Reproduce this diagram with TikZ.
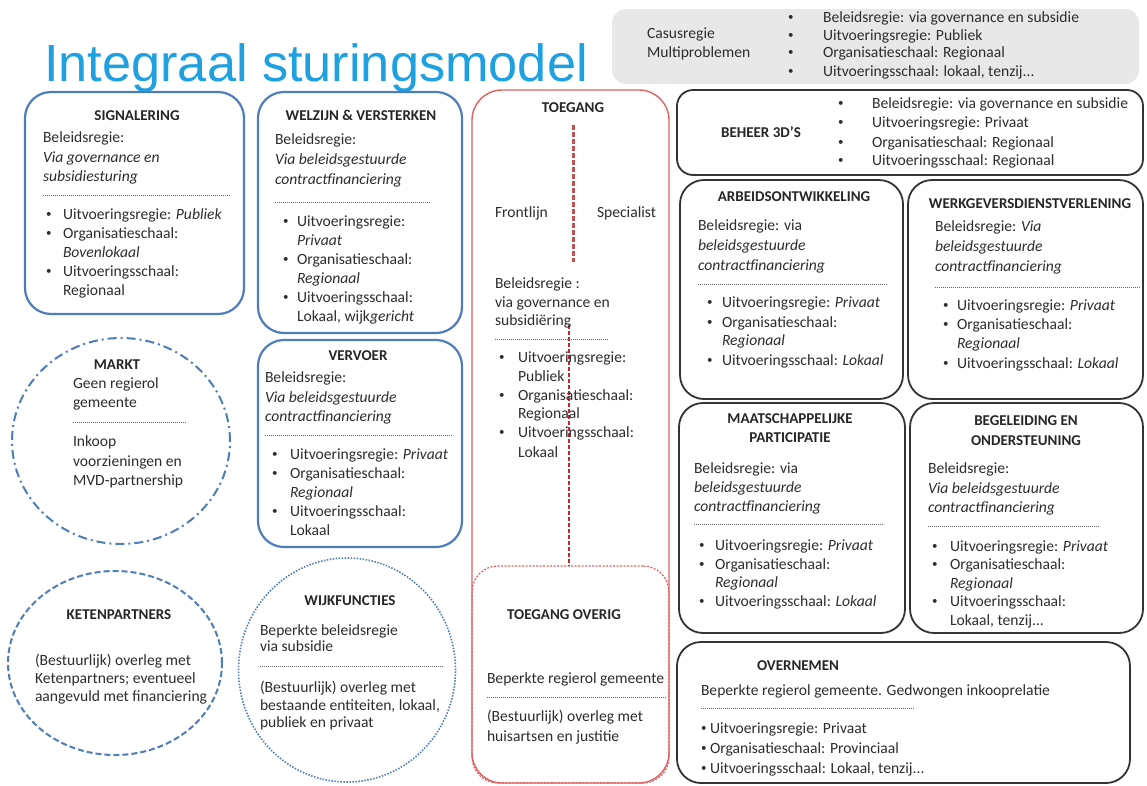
\documentclass[tikz,border=0pt]{standalone}
\usepackage{fontspec}
\setmainfont{Carlito}
\newfontfamily\headfont{Liberation Sans}
\usetikzlibrary{shapes.geometric}
\definecolor{bl}{RGB}{79,125,185}
\definecolor{rd}{RGB}{224,96,96}
\definecolor{drd}{RGB}{190,40,50}
\definecolor{ttlblue}{RGB}{30,160,225}
\definecolor{tc}{RGB}{45,45,45}
\definecolor{gy}{RGB}{232,232,232}
\newcommand\fs{\fontsize{15.6}{19}\selectfont}
\newcommand\ft{\fontsize{15}{18}\selectfont\bfseries}
\newcommand\bulmark{\raisebox{1.6pt}{\fontsize{11}{11}\selectfont\textbullet}}
\newcounter{ln}
\newcommand\TXT[3]{\stepcounter{ln}\node[txt] (l\arabic{ln}) at (#1,#2) {#3};}
\newcommand\HEAD[3]{\stepcounter{ln}\node[head] (h\arabic{ln}) at (#1,#2) {#3};}
\newcommand\BUL[4]{\stepcounter{ln}\node[txt] (b\arabic{ln}) at (#1,#3) {\bulmark};\node[txt] (l\arabic{ln}) at (#2,#3) {#4};}
\newcommand\SEP[3]{\draw[sepline] (#1,#3) -- (#2,#3);}
\tikzset{
  txt/.style={anchor=base west, inner sep=0pt, outer sep=0pt, font=\fs, text=tc},
  head/.style={anchor=base, inner sep=0pt, outer sep=0pt, font=\ft, text=black!85},
  sepline/.style={line width=0.8pt, color=black!60, dash pattern=on 1.2pt off 0.8pt},
  bluebox/.style={draw=bl, line width=2.2pt, rounded corners=26pt},
  blackbox/.style={draw=black!80, line width=1.8pt, rounded corners=24pt},
}
\begin{document}
\begin{tikzpicture}[x=1pt, y=-1pt]
\useasboundingbox (0,0) rectangle (1147,785);
\fill[white] (0,0) rectangle (1147,785);

% title
\node[anchor=base west, inner sep=0pt, font=\headfont\fontsize{52.3}{60}\selectfont, text=ttlblue] (title) at (44,81) {Integraal sturingsmodel};

% grey box
\node[fill=gy, rounded corners=14pt, minimum width=527, minimum height=75] (casus) at (875.5,46.5) {};
\TXT{647}{38}{Casusregie}
\TXT{647}{57}{Multiproblemen}
\BUL{788}{823}{22}{Beleidsregie: via governance en subsidie}
\BUL{788}{823}{40}{Uitvoeringsregie: Publiek}
\BUL{788}{823}{57}{Organisatieschaal: Regionaal}
\BUL{788}{823}{76}{Uitvoeringsschaal: lokaal, tenzij...}

% SIGNALERING
\node[bluebox, minimum width=219, minimum height=222] (sig) at (134.5,203) {};
\HEAD{137}{120}{SIGNALERING}
\TXT{43}{142}{Beleidsregie:}
\TXT{43}{162}{\textit{Via governance en}}
\TXT{43}{181}{\textit{subsidiesturing}}
\SEP{43}{230}{195}
\BUL{46}{63}{219}{Uitvoeringsregie: \textit{Publiek}}
\BUL{46}{63}{238}{Organisatieschaal:}
\TXT{63}{257}{\textit{Bovenlokaal}}
\BUL{46}{63}{276}{Uitvoeringsschaal:}
\TXT{63}{295}{Regionaal}

% WELZIJN
\node[bluebox, minimum width=204, minimum height=241] (welz) at (360,212.5) {};
\HEAD{361}{120}{WELZIJN \& VERSTERKEN}
\TXT{275}{144}{Beleidsregie:}
\TXT{275}{164}{\textit{Via beleidsgestuurde}}
\TXT{275}{184}{\textit{contractfinanciering}}
\SEP{275}{430}{202}
\BUL{283}{297}{226}{Uitvoeringsregie:}
\TXT{297}{245}{\textit{Privaat}}
\BUL{283}{297}{264}{Organisatieschaal:}
\TXT{297}{283}{\textit{Regionaal}}
\BUL{283}{297}{302}{Uitvoeringsschaal:}
\TXT{297}{321}{Lokaal, wijk\textit{gericht}}

% VERVOER
\node[bluebox, minimum width=204, minimum height=207] (verv) at (360,443.5) {};
\HEAD{358}{360}{VERVOER}
\TXT{265}{382}{Beleidsregie:}
\TXT{265}{402}{\textit{Via beleidsgestuurde}}
\TXT{265}{421}{\textit{contractfinanciering}}
\SEP{265}{453}{435}
\BUL{272}{290}{459}{Uitvoeringsregie: \textit{Privaat}}
\BUL{272}{290}{478}{Organisatieschaal:}
\TXT{290}{497}{\textit{Regionaal}}
\BUL{272}{290}{516}{Uitvoeringsschaal:}
\TXT{290}{535}{Lokaal}

% TOEGANG
\node[draw=rd, line width=1.4pt, rounded corners=30pt, minimum width=197, minimum height=693] (toeg) at (570.5,436.5) {};
\node[draw=rd, line width=1.2pt, dash pattern=on 2pt off 1.5pt, rounded corners=26pt, minimum width=197, minimum height=217] (togov) at (570.5,674.5) {};
\coordinate (dA) at (573,125);
\coordinate (dB) at (573,262);
\coordinate (dC) at (569,325);
\draw[line width=3pt, color=rd!85!black, dash pattern=on 5pt off 2pt] (dA) -- (dB);
\draw[line width=2pt, color=drd, dash pattern=on 4pt off 2pt] (dC) -- (dC |- togov.north);
\HEAD{573}{112}{TOEGANG}
\TXT{495}{217}{Frontlijn}
\TXT{597}{217}{Specialist}
\TXT{495}{288}{Beleidsregie :}
\TXT{495}{307}{via governance en}
\TXT{495}{325}{subsidiëring}
\SEP{495}{608}{339}
\BUL{499}{518}{362}{Uitvoeringsregie:}
\TXT{518}{381}{Publiek}
\BUL{499}{518}{400}{Organisatieschaal:}
\TXT{518}{418}{Regionaal}
\BUL{499}{518}{437}{Uitvoeringsschaal:}
\TXT{518}{457}{Lokaal}

% TOEGANG OVERIG
\HEAD{564}{619}{TOEGANG OVERIG}
\TXT{487}{683}{Beperkte regierol gemeente}
\SEP{487}{666}{697}
\TXT{487}{721}{(Bestuurlijk) overleg met}
\TXT{487}{741}{huisartsen en justitie}

% BEHEER 3D'S
\node[blackbox, rounded corners=16pt, minimum width=466, minimum height=85] (beh) at (910,132.5) {};
\HEAD{761}{137}{BEHEER 3D’S}
\BUL{838}{872}{108}{Beleidsregie: via governance en subsidie}
\BUL{838}{872}{127}{Uitvoeringsregie: Privaat}
\BUL{838}{872}{147}{Organisatieschaal: Regionaal}
\BUL{838}{872}{165}{Uitvoeringsschaal: Regionaal}

% ARBEIDSONTWIKKELING
\node[blackbox, minimum width=223, minimum height=219] (arb) at (791.5,289.5) {};
\HEAD{794}{201}{ARBEIDSONTWIKKELING}
\TXT{698}{230}{Beleidsregie: via}
\TXT{698}{250}{\textit{beleidsgestuurde}}
\TXT{698}{270}{\textit{contractfinanciering}}
\SEP{698}{888}{284}
\BUL{707}{722}{307}{Uitvoeringsregie: \textit{Privaat}}
\BUL{707}{722}{327}{Organisatieschaal:}
\TXT{722}{345}{\textit{Regionaal}}
\BUL{707}{722}{365}{Uitvoeringsschaal: \textit{Lokaal}}

% WERKGEVERSDIENSTVERLENING
\node[blackbox, minimum width=235, minimum height=219] (werk) at (1025.5,289.5) {};
\HEAD{1030}{208}{WERKGEVERSDIENSTVERLENING}
\TXT{935}{231}{Beleidsregie: \textit{Via}}
\TXT{935}{251}{\textit{beleidsgestuurde}}
\TXT{935}{271}{\textit{contractfinanciering}}
\SEP{935}{1140}{287}
\BUL{943}{957}{310}{Uitvoeringsregie: \textit{Privaat}}
\BUL{943}{957}{329}{Organisatieschaal:}
\TXT{957}{348}{\textit{Regionaal}}
\BUL{943}{957}{368}{Uitvoeringsschaal: \textit{Lokaal}}

% MAATSCHAPPELIJKE PARTICIPATIE
\node[blackbox, minimum width=226, minimum height=230] (maat) at (792,518) {};
\HEAD{790}{423}{MAATSCHAPPELIJKE}
\HEAD{790}{442}{PARTICIPATIE}
\TXT{694}{473}{Beleidsregie: via}
\TXT{694}{492}{\textit{beleidsgestuurde}}
\TXT{694}{511}{\textit{contractfinanciering}}
\SEP{694}{884}{524}
\BUL{699}{715}{550}{Uitvoeringsregie: \textit{Privaat}}
\BUL{699}{715}{569}{Organisatieschaal:}
\TXT{715}{587}{\textit{Regionaal}}
\BUL{699}{715}{606}{Uitvoeringsschaal: \textit{Lokaal}}

% BEGELEIDING EN ONDERSTEUNING
\node[blackbox, minimum width=233, minimum height=230] (beg) at (1026.5,518) {};
\HEAD{1026}{425}{BEGELEIDING EN}
\HEAD{1026}{445}{ONDERSTEUNING}
\TXT{928}{473}{Beleidsregie:}
\TXT{928}{493}{\textit{Via beleidsgestuurde}}
\TXT{928}{512}{\textit{contractfinanciering}}
\SEP{928}{1100}{526}
\BUL{932}{950}{551}{Uitvoeringsregie: \textit{Privaat}}
\BUL{932}{950}{569}{Organisatieschaal:}
\TXT{950}{588}{\textit{Regionaal}}
\BUL{932}{950}{606}{Uitvoeringsschaal:}
\TXT{950}{625}{Lokaal, tenzij...}

% OVERNEMEN
\node[blackbox, minimum width=453, minimum height=141] (over) at (903.5,712.5) {};
\HEAD{798}{670}{OVERNEMEN}
\TXT{701}{695}{Beperkte regierol gemeente. Gedwongen inkooprelatie}
\SEP{701}{914}{708}
\BUL{701}{710}{733}{Uitvoeringsregie: Privaat}
\BUL{701}{710}{753}{Organisatieschaal: Provinciaal}
\BUL{701}{710}{773}{Uitvoeringsschaal: Lokaal, tenzij...}

% MARKT
\node[ellipse, draw=bl, line width=2pt, dash pattern=on 9pt off 4pt on 2pt off 4pt, minimum width=218, minimum height=206] (markt) at (121,441) {};
\HEAD{117}{369}{MARKT}
\TXT{73}{388}{Geen regierol}
\TXT{73}{407}{gemeente}
\SEP{73}{187}{422}
\TXT{73}{446}{Inkoop}
\TXT{73}{466}{voorzieningen en}
\TXT{73}{485}{MVD-partnership}

% KETENPARTNERS
\node[ellipse, draw=bl, line width=2pt, dash pattern=on 6pt off 3pt, minimum width=214, minimum height=184] (keten) at (115,663) {};
\HEAD{119}{619}{KETENPARTNERS}
\TXT{35}{665}{(Bestuurlijk) overleg met}
\TXT{35}{683}{Ketenpartners; eventueel}
\TXT{35}{701}{aangevuld met financiering}

% WIJKFUNCTIES
\node[ellipse, draw=bl, line width=1.6pt, dash pattern=on 1.5pt off 1.5pt, minimum width=217, minimum height=224] (wijk) at (347,670) {};
\HEAD{350}{605}{WIJKFUNCTIES}
\TXT{260}{635}{Beperkte beleidsregie}
\TXT{260}{651}{via subsidie}
\SEP{260}{444}{666}
\TXT{260}{692}{(Bestuurlijk) overleg met}
\TXT{260}{710}{bestaande entiteiten, lokaal,}
\TXT{260}{727}{publiek en privaat}
\end{tikzpicture}
\end{document}
